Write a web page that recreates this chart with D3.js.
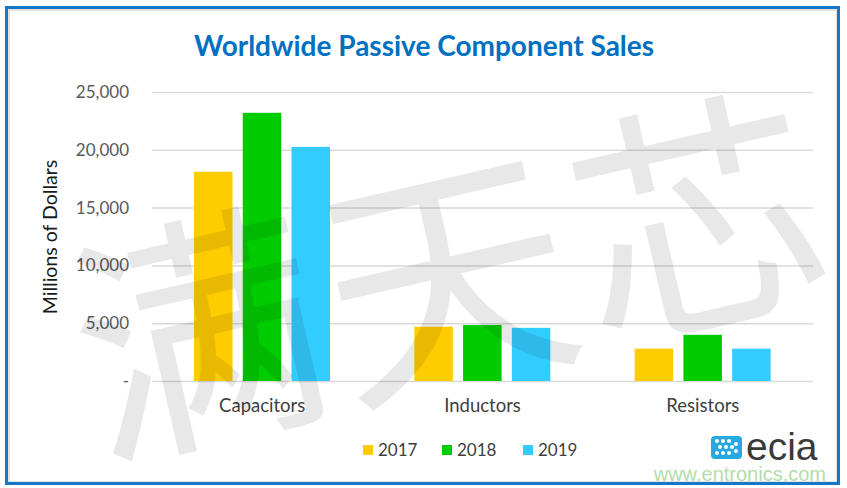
<!DOCTYPE html>
<html>
<head>
<meta charset="utf-8">
<script src="https://cdn.jsdelivr.net/npm/d3@7"></script>
<style>
  body { margin: 0; background: #fff; }
  svg { display: block; }
</style>
</head>
<body>
<div class="svg-container"></div>
<script>
// data
var categories = ["Capacitors", "Inductors", "Resistors"];
var years = ["2017", "2018", "2019"];
var sales2017 = [18100, 4700, 2800];
var sales2018 = [23200, 4850, 4000];
var sales2019 = [20250, 4600, 2800];
var yTicks = [0, 5000, 10000, 15000, 20000, 25000];
var colors = ["#FFCC00", "#00CC00", "#33CCFF"];

var series = [sales2017, sales2018, sales2019];

var width = 847;
var height = 488;

var svg = d3.select(".svg-container").append("svg")
  .attr("width", width)
  .attr("height", height);

// frame
svg.append("rect")
  .attr("x", 9).attr("y", 10)
  .attr("width", 828).attr("height", 472)
  .attr("fill", "none")
  .attr("stroke", "#e3e3e3")
  .attr("stroke-width", 2);
svg.append("rect")
  .attr("x", 6.5).attr("y", 7.5)
  .attr("width", 832).attr("height", 476)
  .attr("fill", "none")
  .attr("stroke", "#1677c6")
  .attr("stroke-width", 3);

// title
svg.append("text")
  .attr("x", 424)
  .attr("y", 56)
  .attr("text-anchor", "middle")
  .style("font-family", "Lato, 'Open Sans', sans-serif")
  .style("font-weight", "bold")
  .style("font-size", "28px")
  .style("fill", "#0070C0")
  .text("Worldwide Passive Component Sales");

// scales
var x0 = d3.scaleBand()
  .domain(categories)
  .range([152, 813]);

var x1 = d3.scaleBand()
  .domain(years)
  .range([42, 178])
  .paddingInner(0.21);

var y = d3.scaleLinear()
  .domain([0, 25000])
  .range([381, 92]);

// grid + y labels
var yAxis = d3.axisLeft(y)
  .tickValues(yTicks)
  .tickSize(-(813 - 152))
  .tickPadding(23)
  .tickFormat(function(d) { return d === 0 ? "-" : d3.format(",")(d); });

var gy = svg.append("g")
  .attr("transform", "translate(152,0)")
  .call(yAxis);
gy.select(".domain").remove();
gy.selectAll(".tick line")
  .attr("stroke", "#d9d9d9")
  .attr("stroke-width", 1.5);
gy.selectAll(".tick text")
  .style("font-family", "Lato, sans-serif")
  .style("font-size", "17px")
  .style("fill", "#595959");

// y title
svg.append("text")
  .attr("transform", "translate(57,237) rotate(-90)")
  .attr("text-anchor", "middle")
  .style("font-family", "Lato, sans-serif")
  .style("font-size", "19.5px")
  .style("fill", "#1a1a1a")
  .text("Millions of Dollars");

// bars
var groups = svg.selectAll(".grp")
  .data(categories)
  .enter().append("g")
  .attr("class", "grp")
  .attr("transform", function(d) { return "translate(" + x0(d) + ",0)"; });

groups.selectAll("rect")
  .data(function(d, i) {
    return years.map(function(yr, j) { return { year: yr, value: series[j][i], color: colors[j] }; });
  })
  .enter().append("rect")
  .attr("x", function(d) { return x1(d.year); })
  .attr("width", x1.bandwidth())
  .attr("y", function(d) { return y(d.value); })
  .attr("height", function(d) { return y(0) - y(d.value); })
  .attr("fill", function(d) { return d.color; });

// category labels
var xAxis = d3.axisBottom(x0).tickSize(0).tickPadding(18);
var gx = svg.append("g")
  .attr("transform", "translate(0,381)")
  .call(xAxis);
gx.select(".domain").remove();
gx.selectAll(".tick text")
  .style("font-family", "Lato, sans-serif")
  .style("font-size", "18.5px")
  .style("fill", "#404040");

// legend
var legendX = [363, 442, 523];
var legend = svg.selectAll(".leg")
  .data(years)
  .enter().append("g")
  .attr("class", "leg")
  .attr("transform", function(d, i) { return "translate(" + legendX[i] + ",445)"; });
legend.append("rect")
  .attr("width", 10).attr("height", 10)
  .attr("fill", function(d, i) { return colors[i]; });
legend.append("text")
  .attr("x", 15).attr("y", 11)
  .style("font-family", "Lato, sans-serif")
  .style("font-size", "17px")
  .style("fill", "#404040")
  .text(function(d) { return d; });

// ecia logo
var logo = svg.append("g").attr("transform", "translate(711,436)");
logo.append("rect")
  .attr("width", 31).attr("height", 23).attr("rx", 4)
  .attr("fill", "#27a8e0");
var dotPos = [[6,5],[12,5],[18,5],[9,11],[15,11],[21,11],[6,17],[12,17],[18,17],[25,8],[25,15]];
logo.selectAll("circle")
  .data(dotPos)
  .enter().append("circle")
  .attr("cx", function(d) { return d[0]; })
  .attr("cy", function(d) { return d[1]; })
  .attr("r", 2)
  .attr("fill", "#fff");
svg.append("text")
  .attr("x", 746).attr("y", 460)
  .style("font-family", "'Liberation Sans', sans-serif")
  .style("font-size", "39px")
  .style("fill", "#3a3a3a")
  .text("ecia");
svg.append("text")
  .attr("x", 826).attr("y", 481)
  .attr("text-anchor", "end")
  .style("font-family", "'Liberation Sans', sans-serif")
  .style("font-size", "20px")
  .style("fill", "#b3ddab")
  .text("www.entronics.com");

// watermark
svg.append("text")
  .attr("transform", "translate(447,262) rotate(-13)")
  .attr("text-anchor", "middle")
  .attr("dominant-baseline", "central")
  .style("font-family", "'Noto Sans CJK SC', sans-serif")
  .style("font-size", "250px")
  .style("letter-spacing", "6px")
  .style("fill", "#000")
  .style("opacity", 0.085)
  .text("满天芯");
</script>
</body>
</html>
